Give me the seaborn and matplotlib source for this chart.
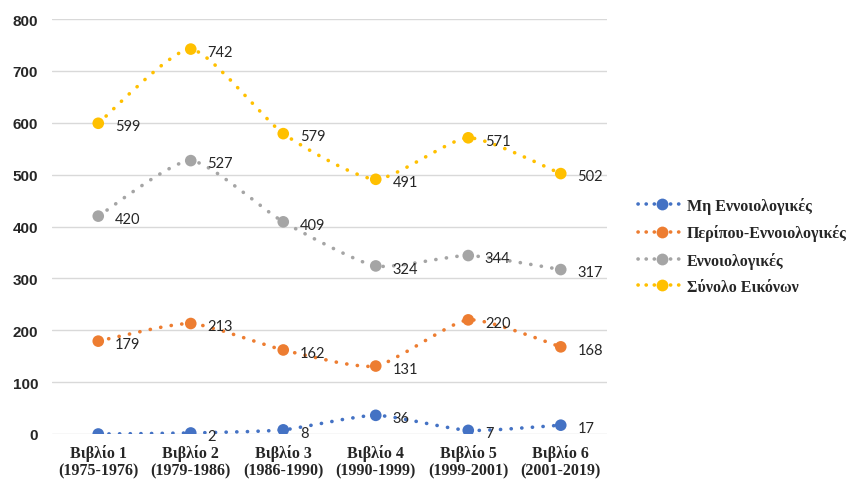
import numpy as np
import pandas as pd
import matplotlib
matplotlib.use("Agg")
import matplotlib.pyplot as plt
from matplotlib.path import Path
from matplotlib.patches import PathPatch
from matplotlib.lines import Line2D
import seaborn as sns

books = ["Βιβλίο 1", "Βιβλίο 2", "Βιβλίο 3", "Βιβλίο 4", "Βιβλίο 5", "Βιβλίο 6"]
periods = ["(1975-1976)", "(1979-1986)", "(1986-1990)", "(1990-1999)", "(1999-2001)", "(2001-2019)"]
series_names = ["Μη Εννοιολογικές", "Περίπου-Εννοιολογικές", "Εννοιολογικές", "Σύνολο Εικόνων"]
non_conceptual = [0, 2, 8, 36, 7, 17]
semi_conceptual = [179, 213, 162, 131, 220, 168]
conceptual = [420, 527, 409, 324, 344, 317]
total_images = [599, 742, 579, 491, 571, 502]
colors = ["#4472C4", "#ED7D31", "#A5A5A5", "#FFC000"]
# points shown without a value label
unlabeled = {("Μη Εννοιολογικές", 0)}

sns.set_theme(style="white")
plt.rcParams["font.family"] = ["Lato", "DejaVu Sans"]

df = pd.DataFrame({
    "x": np.tile(np.arange(len(books)), 4),
    "value": non_conceptual + semi_conceptual + conceptual + total_images,
    "series": np.repeat(series_names, len(books)),
})

fig = plt.figure(figsize=(8.57, 4.81), dpi=100)
ax = fig.add_axes([52 / 857, 1 - 435 / 481, (607 - 52) / 857, (435 - 20) / 481])


def smooth_path(xs, ys, tension=0.1):
    """Gently smoothed cubic Bezier through the given points."""
    pts = np.column_stack([xs, ys]).astype(float)
    n = len(pts)
    verts = [pts[0]]
    codes = [Path.MOVETO]
    for i in range(n - 1):
        p0 = pts[i - 1] if i > 0 else pts[i]
        p1 = pts[i]
        p2 = pts[i + 1]
        p3 = pts[i + 2] if i + 2 < n else pts[i + 1]
        c1 = p1 + (p2 - p0) * tension
        c2 = p2 - (p3 - p1) * tension
        verts += [c1, c2, p2]
        codes += [Path.CURVE4] * 3
    return Path(verts, codes)


dot_ls = (0, (0.05, 2.9))

for name, color in zip(series_names, colors):
    sub = df[df["series"] == name]
    path = smooth_path(sub["x"].values, sub["value"].values)
    patch = PathPatch(path, facecolor="none", edgecolor=color,
                      linestyle=dot_ls, linewidth=2.6,
                      capstyle="round", zorder=2)
    ax.add_patch(patch)

sns.scatterplot(data=df, x="x", y="value", hue="series", palette=colors,
                hue_order=series_names, s=70, edgecolor="none", legend=False,
                ax=ax, zorder=3)

for name in series_names:
    sub = df[df["series"] == name]
    for xi, v in zip(sub["x"], sub["value"]):
        if (name, xi) in unlabeled:
            continue
        ax.annotate(str(v), (xi, v), xytext=(12, -2), textcoords="offset points",
                    ha="left", va="center", fontsize=10.5, color="#262626",
                    fontfamily=["Lato", "DejaVu Sans"], zorder=4)

ax.set_xlim(-0.5, len(books) - 0.5)
ax.set_ylim(0, 800)
ax.set_yticks(range(0, 801, 100))
ax.set_xticks(range(len(books)))
ax.set_xticklabels([f"{b}\n{p}" for b, p in zip(books, periods)],
                   fontfamily=["Liberation Serif", "DejaVu Serif"], fontweight="bold",
                   fontsize=11.5, color="#262626", linespacing=1.15)
for lbl in ax.get_yticklabels():
    lbl.set_fontweight("bold")
    lbl.set_fontsize(11)
    lbl.set_color("#262626")
    lbl.set_fontfamily(["Liberation Sans", "DejaVu Sans"])
ax.set_xlabel("")
ax.set_ylabel("")
ax.tick_params(axis="x", length=0, pad=7)
ax.tick_params(axis="y", length=0, pad=10)
ax.grid(axis="y", color="#D9D9D9", linewidth=1)
ax.set_axisbelow(True)
for s in ax.spines.values():
    s.set_visible(False)

handles = [Line2D([0], [0], color=c, marker="o", markersize=8.5,
                  linestyle=(0, (0.05, 2.2)), linewidth=2.6,
                  dash_capstyle="round", markeredgecolor="none")
           for c in colors]
fig.legend(handles, series_names, loc="center left",
           bbox_to_anchor=(624 / 857, 1 - 247 / 481), frameon=False,
           prop={"family": ["Liberation Serif", "DejaVu Serif"], "weight": "bold", "size": 11.5},
           handlelength=2.9, handletextpad=0.15, labelspacing=0.65, labelcolor="#262626")

fig.savefig("out.png", dpi=100)
